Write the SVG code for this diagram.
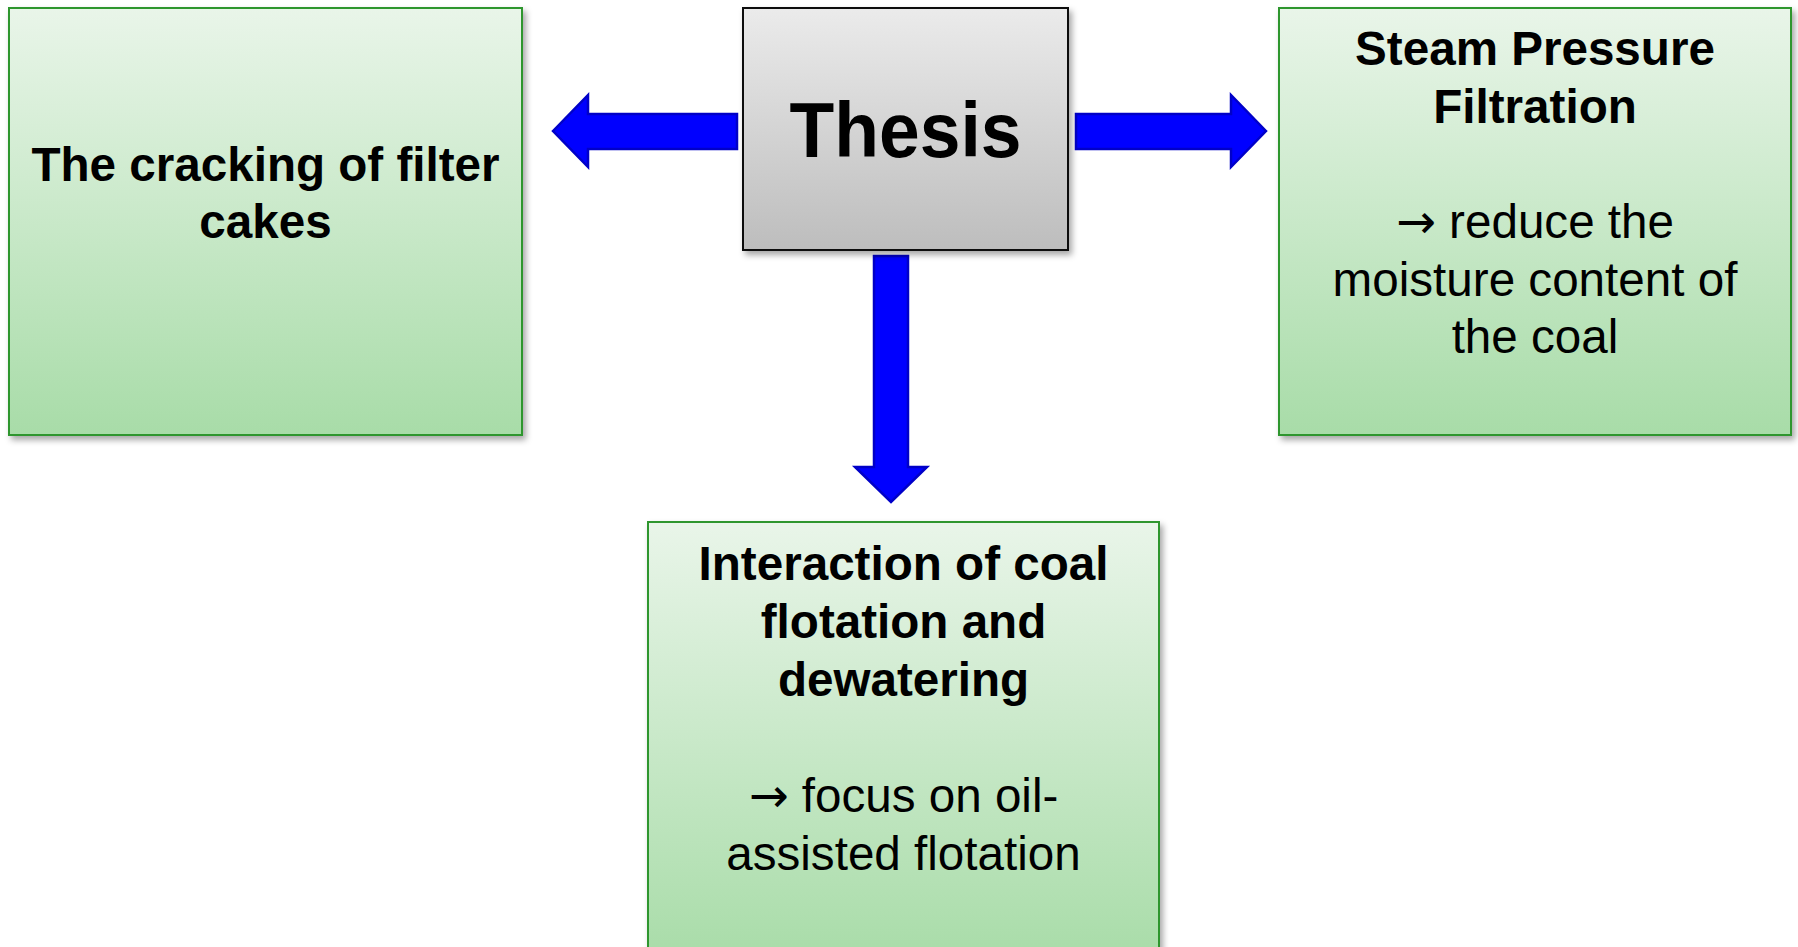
<svg xmlns="http://www.w3.org/2000/svg" width="1798" height="947" viewBox="0 0 1798 947">
<defs>
<linearGradient id="gGreen" x1="0" y1="0" x2="0" y2="1">
<stop offset="0" stop-color="#E9F5E9"/>
<stop offset="1" stop-color="#A8DCA8"/>
</linearGradient>
<linearGradient id="gGrey" x1="0" y1="0" x2="0" y2="1">
<stop offset="0" stop-color="#EBEBEB"/>
<stop offset="1" stop-color="#BDBDBD"/>
</linearGradient>
<filter id="shadow" x="-10%" y="-10%" width="120%" height="120%">
<feDropShadow dx="3" dy="4" stdDeviation="3" flood-color="#000" flood-opacity="0.35"/>
</filter>
</defs>
<style>
.green{fill:url(#gGreen);stroke:#2E962E;stroke-width:2;filter:url(#shadow)}
.grey{fill:url(#gGrey);stroke:#111;stroke-width:2;filter:url(#shadow)}
.arrow{fill:#0000FF;stroke:#0000C8;stroke-width:2.5;stroke-linejoin:miter}
text{font-family:"Liberation Sans",Arial,sans-serif;fill:#000;text-anchor:middle}
.b{font-weight:bold;font-size:47.6px}
.r{font-size:47.6px}
.t{font-weight:bold;font-size:78px}
.ar{font-family:"DejaVu Sans",sans-serif;font-weight:normal}
</style>
<rect width="1798" height="947" fill="#FFFFFF"/>
<g id="connectors">
<polygon class="arrow" points="553,131 588,95 588,114 737,114 737,149 588,149 588,167"/>
<polygon class="arrow" points="1266,131 1231,95 1231,114 1076,114 1076,149 1231,149 1231,167"/>
<polygon class="arrow" points="874,256 908,256 908,467 927,467 891,502 855,467 874,467"/>
</g>
<g id="node-thesis">
<rect class="grey" x="743" y="8" width="325" height="242"/>
<text class="t" x="905.5" y="157" textLength="232" lengthAdjust="spacingAndGlyphs">Thesis</text>
</g>
<g id="node-cracking">
<rect class="green" x="9" y="8" width="513" height="427"/>
<text class="b" x="265.5" y="181">The cracking of filter</text>
<text class="b" x="265.5" y="238">cakes</text>
</g>
<g id="node-steam">
<rect class="green" x="1279" y="8" width="512" height="427"/>
<text class="b" x="1535" y="65">Steam Pressure</text>
<text class="b" x="1535" y="123">Filtration</text>
<text class="r" x="1535" y="238"><tspan class="ar">→</tspan> reduce the</text>
<text class="r" x="1535" y="296">moisture content of</text>
<text class="r" x="1535" y="353">the coal</text>
</g>
<g id="node-interaction">
<rect class="green" x="648" y="522" width="511" height="440"/>
<text class="b" x="903.5" y="580">Interaction of coal</text>
<text class="b" x="903.5" y="638">flotation and</text>
<text class="b" x="903.5" y="696">dewatering</text>
<text class="r" x="903.5" y="812"><tspan class="ar">→</tspan> focus on oil-</text>
<text class="r" x="903.5" y="870">assisted flotation</text>
</g>
</svg>
